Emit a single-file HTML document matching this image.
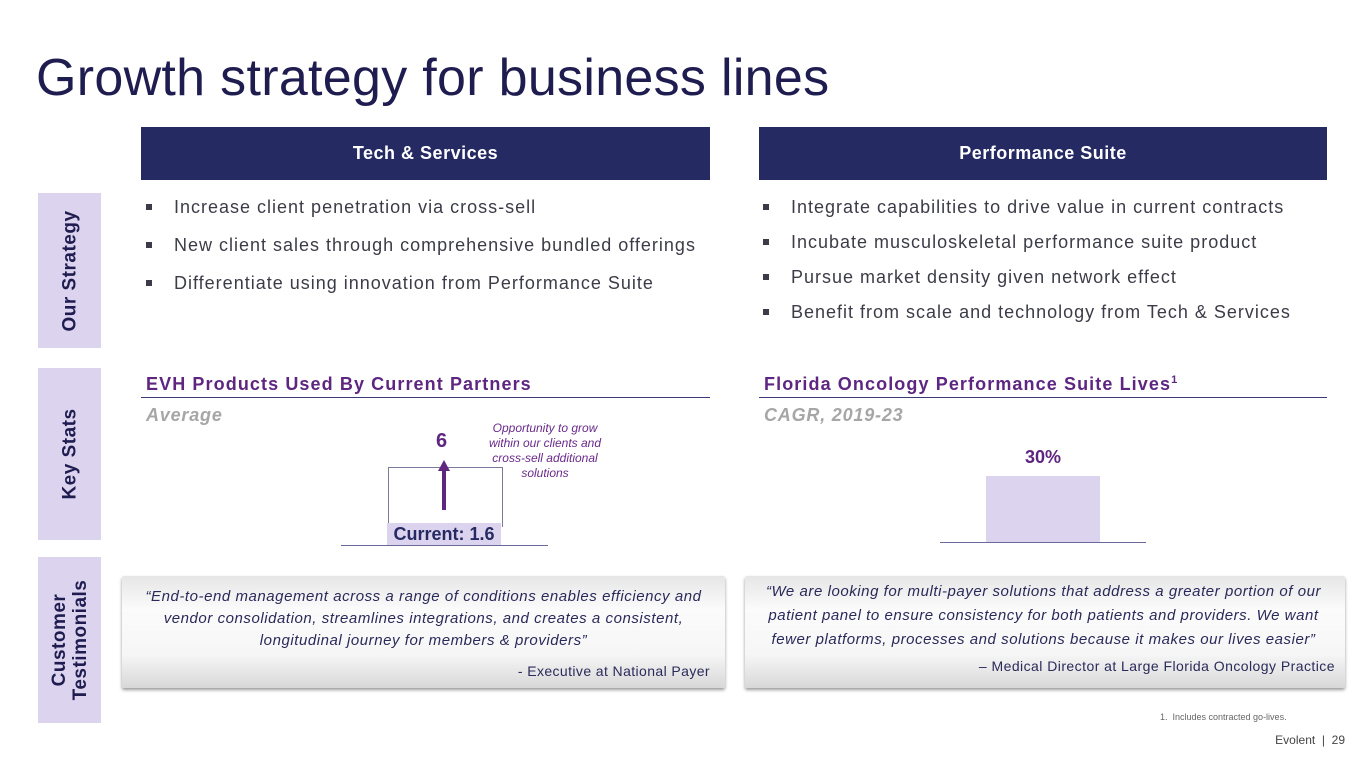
<!DOCTYPE html>
<html><head><meta charset="utf-8"><style>
*{margin:0;padding:0;box-sizing:border-box}
body{width:1365px;height:768px;background:#fff;position:relative;overflow:hidden;font-family:"Liberation Sans",sans-serif}
.a{position:absolute}
.title{left:36px;top:48px;font-size:52px;color:#1f1d50;white-space:nowrap;letter-spacing:0.3px}
.hdr{background:#252a63;color:#fff;font-weight:bold;font-size:18px;text-align:center;line-height:53px;height:53px;top:127px;letter-spacing:0.5px}
.side{left:38px;width:63px;background:#dcd3ee}
.side span{position:absolute;left:50%;top:50%;transform:translate(-50%,-50%) rotate(-90deg);white-space:nowrap;font-weight:bold;font-size:19px;color:#1f1d50;text-align:center;line-height:21px;letter-spacing:0.5px}
.bl{font-size:18px;color:#3c3c48;white-space:nowrap;letter-spacing:1px}
.bl:before{content:"";position:absolute;left:-28px;top:7px;width:6px;height:6px;background:#3c3c48}
.sh{font-weight:bold;font-size:18px;color:#5e2680;white-space:nowrap;letter-spacing:1.1px}
.rule{height:1px;background:#3a3a7a}
.sub{font-weight:bold;font-style:italic;font-size:18px;color:#a6a6a6;letter-spacing:0.8px}
.q{background:linear-gradient(#e6e6e6,#fbfbfb 30%,#f6f6f6 70%,#d8d8d8);box-shadow:0 2px 3px #999;border-radius:2px}
.qt{font-style:italic;font-size:15px;color:#2a2a5a;text-align:center;white-space:nowrap;letter-spacing:0.55px}
</style></head><body>
<div class="a title">Growth strategy for business lines</div>
<div class="a hdr" style="left:141px;width:569px">Tech &amp; Services</div>
<div class="a hdr" style="left:759px;width:568px">Performance Suite</div>

<div class="a side" style="top:193px;height:155px"><span>Our Strategy</span></div>
<div class="a side" style="top:368px;height:172px"><span>Key Stats</span></div>
<div class="a side" style="top:557px;height:166px"><span>Customer<br>Testimonials</span></div>

<div class="a bl" style="left:174px;top:197px">Increase client penetration via cross-sell</div>
<div class="a bl" style="left:174px;top:235px">New client sales through comprehensive bundled offerings</div>
<div class="a bl" style="left:174px;top:273px">Differentiate using innovation from Performance Suite</div>
<div class="a bl" style="left:791px;top:197px">Integrate capabilities to drive value in current contracts</div>
<div class="a bl" style="left:791px;top:232px">Incubate musculoskeletal performance suite product</div>
<div class="a bl" style="left:791px;top:267px">Pursue market density given network effect</div>
<div class="a bl" style="left:791px;top:302px">Benefit from scale and technology from Tech &amp; Services</div>

<div class="a sh" style="left:146px;top:374px">EVH Products Used By Current Partners</div>
<div class="a rule" style="left:141px;top:397px;width:569px"></div>
<div class="a sub" style="left:146px;top:405px">Average</div>
<div class="a sh" style="left:764px;top:374px">Florida Oncology Performance Suite Lives<sup style="font-size:11px">1</sup></div>
<div class="a rule" style="left:759px;top:397px;width:568px"></div>
<div class="a sub" style="left:764px;top:405px">CAGR, 2019-23</div>

<div class="a" style="left:388px;top:467px;width:115px;height:60px;border:1px solid #7a7a9a;border-bottom:none"></div>
<div class="a" style="left:341px;top:545px;width:207px;height:1px;background:#6a6a9a"></div>
<div class="a" style="left:387px;top:523px;width:114px;height:22px;background:#dcd3ee;color:#252a63;font-weight:bold;font-size:18px;line-height:22px;text-align:center">Current: 1.6</div>
<div class="a" style="left:442px;top:470px;width:4px;height:40px;background:#5e2680"></div>
<div class="a" style="left:438px;top:460px;width:0;height:0;border-left:6px solid transparent;border-right:6px solid transparent;border-bottom:11px solid #5e2680"></div>
<div class="a" style="left:436px;top:430px;font-weight:bold;font-size:20px;color:#5e2680">6</div>
<div class="a" style="left:470px;top:421px;width:150px;text-align:center;font-style:italic;font-size:12px;line-height:15px;color:#6a2a8a;white-space:nowrap">Opportunity to grow<br>within our clients and<br>cross-sell additional<br>solutions</div>

<div class="a" style="left:986px;top:476px;width:114px;height:66px;background:#dcd3ee"></div>
<div class="a" style="left:940px;top:542px;width:206px;height:1px;background:#6a6a9a"></div>
<div class="a" style="left:986px;top:447px;width:114px;text-align:center;font-weight:bold;font-size:18px;color:#5e2680">30%</div>

<div class="a q" style="left:122px;top:576px;width:603px;height:112px"></div>
<div class="a qt" style="left:122px;top:586px;width:603px;line-height:22px">“End-to-end management across a range of conditions enables efficiency and<br>vendor consolidation, streamlines integrations, and creates a consistent,<br>longitudinal journey for members &amp; providers”</div>
<div class="a" style="left:400px;top:663px;width:310px;text-align:right;font-size:14px;color:#2a2a5a;letter-spacing:0.4px">- Executive at National Payer</div>

<div class="a q" style="left:745px;top:576px;width:600px;height:112px"></div>
<div class="a qt" style="left:745px;top:580px;width:597px;line-height:24px">“We are looking for multi-payer solutions that address a greater portion of our<br>patient panel to ensure consistency for both patients and providers. We want<br>fewer platforms, processes and solutions because it makes our lives easier”</div>
<div class="a" style="left:900px;top:658px;width:435px;text-align:right;font-size:14px;color:#2a2a5a;letter-spacing:0.45px">– Medical Director at Large Florida Oncology Practice</div>

<div class="a" style="left:1160px;top:712px;font-size:9px;color:#666">1.&nbsp; Includes contracted go-lives.</div>
<div class="a" style="left:1250px;top:733px;width:95px;text-align:right;font-size:12px;color:#444">Evolent&nbsp; |&nbsp; 29</div>
</body></html>
